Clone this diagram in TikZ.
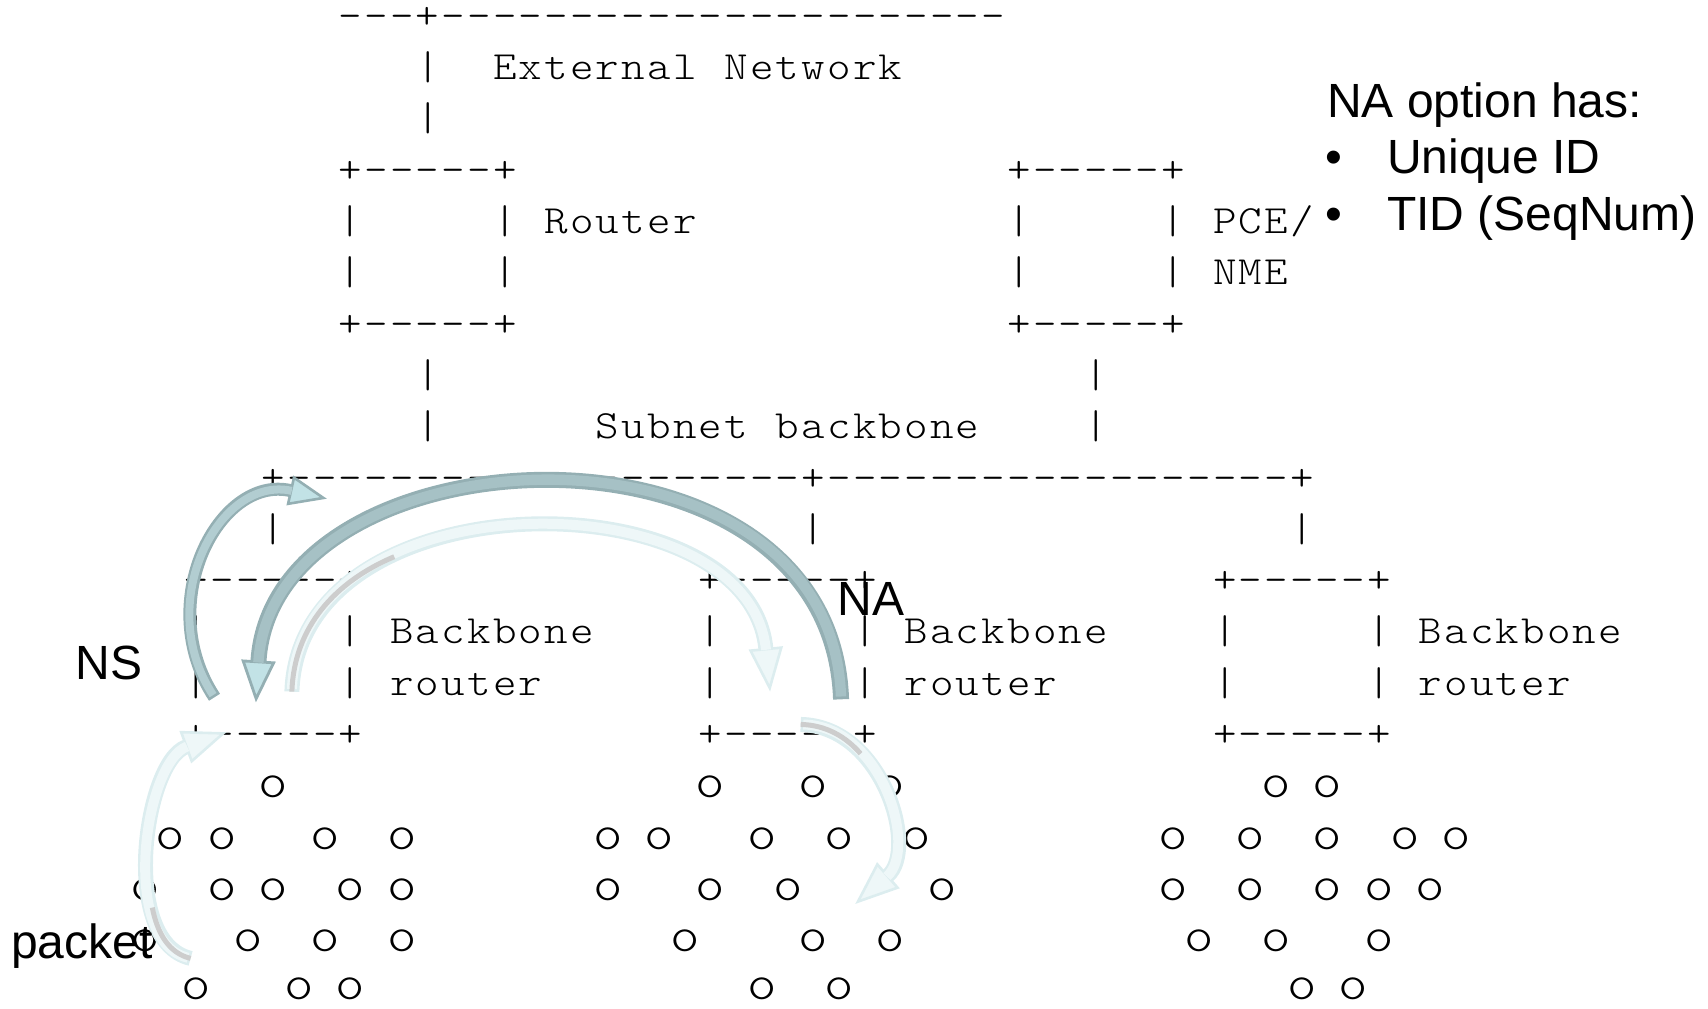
\documentclass[tikz,border=0pt]{standalone}
\usepackage{fontspec}
\usetikzlibrary{arrows.meta}
\newfontfamily\asciifont{lmmonolt10-regular.otf}[FakeStretch=1.12]
\newfontfamily\labelfont{Liberation Sans}
\newlength\cellw
\setlength\cellw{12.855pt}
\makeatletter
\newcommand\cells[1]{\@tfor\cellch:=#1\do{\makebox[\cellw]{\cellch}}}
\makeatother
\definecolor{edgeteal}{HTML}{94AFB3}
\definecolor{shaftteal}{HTML}{A6C1C5}
\definecolor{headteal}{HTML}{C2E2E6}
\definecolor{nsshaft}{HTML}{B2CDD1}
\definecolor{paleedge}{HTML}{DCEDEF}
\definecolor{palefill}{HTML}{EEF7F8}
\definecolor{coregray}{HTML}{CDCDCD}
\tikzset{
  ascii/.style={font=\asciifont\fontsize{20}{24}\selectfont, inner sep=0pt, anchor=base west},
  mote/.style={ascii, font=\asciifont\fontsize{25}{30}\selectfont},
  tag/.style={font=\labelfont\fontsize{24}{28}\selectfont, inner sep=0pt, anchor=base west},
  naarrow/.style={draw=edgeteal, line width=8pt,
    -{Triangle[width=17pt,length=21pt,fill=headteal,line width=1.4pt]},
    postaction={draw=shaftteal, line width=5.2pt, arrows=-, shorten >=20pt, shorten <=1.4pt}},
  nsarrow/.style={draw=edgeteal, line width=6.5pt,
    -{Triangle[width=15pt,length=19pt,fill=headteal,line width=1.3pt]},
    postaction={draw=nsshaft, line width=4pt, arrows=-, shorten >=18pt, shorten <=1.3pt}},
  palearrow/.style={draw=paleedge, line width=7.5pt,
    -{Triangle[width=17pt,length=22pt,fill=palefill,line width=1.3pt]},
    postaction={draw=palefill, line width=5pt, arrows=-, shorten >=21pt, shorten <=1.3pt}},
  core/.style={draw=coregray, line width=2.5pt}
}
\begin{document}
\begin{tikzpicture}[x=12.855pt, y=-25.65pt]
\useasboundingbox (-7.1233,-0.5517) rectangle (59.310,19.0975);
% external network, router, PCE/NME
\node[ascii] (extbus) at (6,0) {\cells{---+----------------------}};
\node[ascii] (extlink) at (9,1) {\cells{|~~External~Network}};
\node[ascii] (extlink2) at (9,2) {\cells{|}};
\node[ascii] (rtrtop) at (6,3) {\cells{+-----+}};
\node[ascii] (rtrmid) at (6,4) {\cells{|~~~~~|~Router}};
\node[ascii] (rtrlow) at (6,5) {\cells{|~~~~~|}};
\node[ascii] (rtrbot) at (6,6) {\cells{+-----+}};
\node[ascii] (pcetop) at (32,3) {\cells{+-----+}};
\node[ascii] (pcemid) at (32,4) {\cells{|~~~~~|~PCE/}};
\node[ascii] (pcelow) at (32,5) {\cells{|~~~~~|~NME}};
\node[ascii] (pcebot) at (32,6) {\cells{+-----+}};
\node[ascii] (rtrup) at (9,7) {\cells{|}};
\node[ascii] (rtrup2) at (9,8) {\cells{|}};
\node[ascii] (pceup) at (35,7) {\cells{|}};
\node[ascii] (pceup2) at (35,8) {\cells{|}};
\node[ascii] (sublbl) at (16,8) {\cells{Subnet~backbone}};
% subnet backbone
\node[ascii] (subbus) at (3,9) {\cells{+--------------------+------------------+}};
\node[ascii] (dropA) at (3,10) {\cells{|}};
\node[ascii] (dropB) at (24,10) {\cells{|}};
\node[ascii] (dropC) at (43,10) {\cells{|}};
% backbone routers
\node[ascii] (bbrAtop) at (0,11) {\cells{+-----+}};
\node[ascii] (bbrAmid) at (0,12) {\cells{|~~~~~|~Backbone}};
\node[ascii] (bbrAlow) at (0,13) {\cells{|~~~~~|~router}};
\node[ascii] (bbrAbot) at (0,14) {\cells{+-----+}};
\node[ascii] (bbrBtop) at (20,11) {\cells{+-----+}};
\node[ascii] (bbrBmid) at (20,12) {\cells{|~~~~~|~Backbone}};
\node[ascii] (bbrBlow) at (20,13) {\cells{|~~~~~|~router}};
\node[ascii] (bbrBbot) at (20,14) {\cells{+-----+}};
\node[ascii] (bbrCtop) at (40,11) {\cells{+-----+}};
\node[ascii] (bbrCmid) at (40,12) {\cells{|~~~~~|~Backbone}};
\node[ascii] (bbrClow) at (40,13) {\cells{|~~~~~|~router}};
\node[ascii] (bbrCbot) at (40,14) {\cells{+-----+}};
% motes
\foreach \c in {3,20,24,27,42,44} \node[mote] (mote15-\c) at (\c,15) {\cells{o}};
\foreach \c in {-1,1,5,8,16,18,22,25,28,38,41,44,47,49} \node[mote] (mote16-\c) at (\c,16) {\cells{o}};
\foreach \c in {-2,1,3,6,8,16,20,23,29,38,41,44,46,48} \node[mote] (mote17-\c) at (\c,17) {\cells{o}};
\foreach \c in {-2,2,5,8,19,24,27,39,42,46} \node[mote] (mote18-\c) at (\c,18) {\cells{o}};
\foreach \c in {0,4,6,22,25,43,45} \node[mote] (mote19-\c) at (\c,18.94) {\cells{o}};
% packet forwarding (pale arrows)
\coordinate (fwdTail) at (4.23,12.93);
\coordinate (fwdHead) at (22.83,12.93);
\coordinate (fwdCore) at (8.21,10.3);
\draw[palearrow] (fwdTail) .. controls (4.5,8.72) and (22,8.72) .. (fwdHead);
\draw[core] (fwdTail) .. controls (4.311,11.66) and (5.943,10.78) .. (fwdCore);
\coordinate (pktTail) at (0.29,18.13);
\coordinate (pktHead) at (1.69,13.72);
\coordinate (pktCore) at (-1.2,17.14);
\draw[palearrow] (pktTail) .. controls (-2.5,17.8) and (-1.5,14.3) .. (pktHead);
\draw[core] (pktTail) .. controls (-0.55,18.031) and (-1.0,17.647) .. (pktCore);
\coordinate (hopTail) at (24.02,13.57);
\coordinate (hopHead) at (26.14,17.07);
\coordinate (hopCore) at (26.35,14.14);
\draw[palearrow] (hopTail) .. controls (27.2,13.6) and (28.6,16.0) .. (hopHead);
\draw[core] (hopTail) .. controls (24.974,13.579) and (25.768,13.801) .. (hopCore);
% NA and NS
\coordinate (naTail) at (25.59,13.08);
\coordinate (naHead) at (2.83,13.14);
\draw[naarrow] (naTail) .. controls (25.2,7.25) and (3.5,7.75) .. (naHead);
\coordinate (nsTail) at (1.22,13.04);
\coordinate (nsHead) at (5.59,9.17);
\draw[nsarrow] (nsTail) .. controls (-1.2,11.2) and (1.4,8.7) .. (nsHead);
% labels
\node[tag] (nslbl) at (-4.2,12.69) {NS};
\node[tag] (nalbl) at (25.45,11.44) {NA};
\node[tag] (pktlbl) at (-6.7,18.13) {packet};
\node[tag] (opthead) at (44.48,1.73) {NA option has:};
\node[tag] (bulA) at (44.4,2.84) {\textbullet};
\node[tag] (uidlbl) at (46.81,2.84) {Unique ID};
\node[tag] (bulB) at (44.4,3.95) {\textbullet};
\node[tag] (tidlbl) at (46.81,3.95) {TID (SeqNum)};
\end{tikzpicture}
\end{document}
